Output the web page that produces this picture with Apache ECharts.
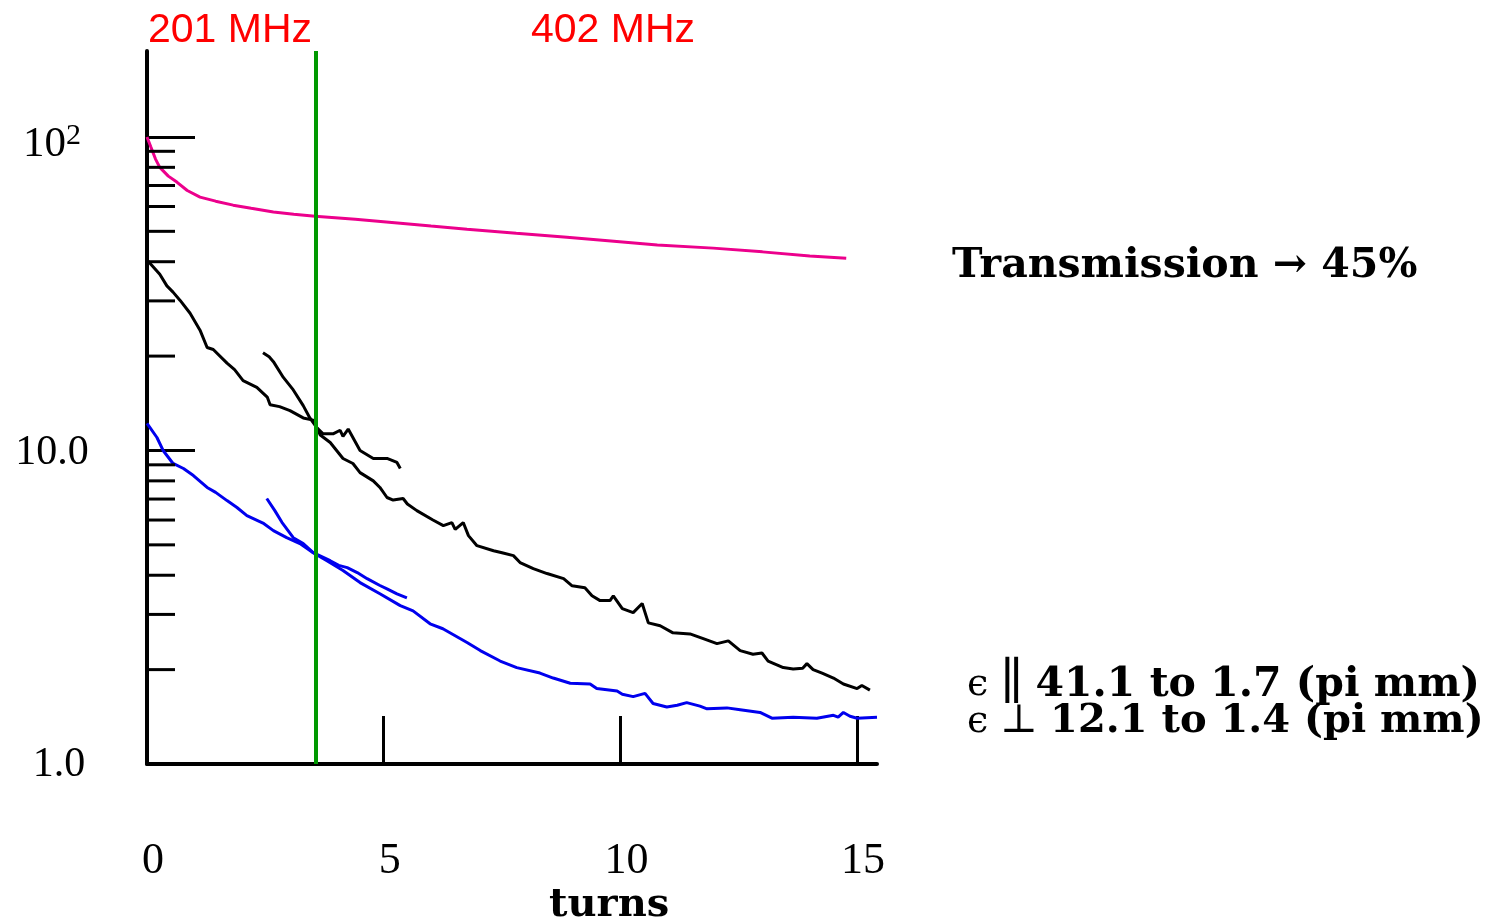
<!DOCTYPE html>
<html><head><meta charset="utf-8">
<script src="https://cdn.jsdelivr.net/npm/echarts@6/dist/echarts.min.js"></script>
<style>html,body{margin:0;padding:0;background:#fff}#c{width:1495px;height:921px}</style>
</head><body><div id="c"></div>
<script>
// tick values
const xTicks = [5, 10, 15];
const xLabels = [0, 5, 10, 15];
const yMajor = [1, 10, 100];
const yMinor = [2, 3, 4, 5, 6, 7, 8, 9, 20, 30, 40, 50, 60, 70, 80, 90];
const rfSwitchTurn = 3.57;

// series: [turns, value]
const transmission = [[0,100],[0.08,93],[0.18,85],[0.27,80],[0.45,75],[0.63,71.8],[0.85,67.5],[1.12,64.3],[1.45,62.4],[1.82,60.6],[2.2,59.2],[2.67,57.6],[3.1,56.7],[3.55,55.9],[4.4,54.6],[5.35,53.1],[6.0,52.0],[6.76,50.8],[7.8,49.3],[8.87,47.9],[9.8,46.6],[10.78,45.2],[11.96,44.2],[13.0,43.0],[14.0,41.7],[14.77,41.0]];

const epsParallel = [[0,40.5],[0.1,39.0],[0.27,36.5],[0.42,33.5],[0.55,32.0],[0.7,30.1],[0.91,27.4],[1.12,24.2],[1.27,21.3],[1.4,21.0],[1.69,19.0],[1.85,18.1],[2.03,16.7],[2.32,15.9],[2.54,14.8],[2.6,14.0],[2.8,13.8],[3.02,13.4],[3.3,12.7],[3.51,12.5],[3.66,11.2],[3.87,10.6],[4.14,9.43],[4.35,9.09],[4.5,8.5],[4.78,8.0],[4.92,7.62],[5.07,7.08],[5.2,6.95],[5.41,7.03],[5.5,6.75],[5.7,6.43],[6.04,6.0],[6.26,5.76],[6.44,5.89],[6.51,5.6],[6.68,5.89],[6.79,5.35],[6.97,4.97],[7.32,4.79],[7.5,4.72],[7.74,4.62],[7.88,4.39],[8.16,4.2],[8.45,4.05],[8.8,3.9],[8.98,3.7],[9.25,3.65],[9.4,3.44],[9.57,3.32],[9.78,3.32],[9.85,3.44],[10.04,3.13],[10.27,3.04],[10.46,3.25],[10.59,2.82],[10.84,2.76],[11.11,2.62],[11.47,2.60],[11.75,2.51],[12.04,2.42],[12.28,2.47],[12.53,2.30],[12.8,2.24],[12.99,2.26],[13.12,2.13],[13.44,2.03],[13.65,2.01],[13.85,2.02],[13.94,2.09],[14.07,2.0],[14.26,1.95],[14.5,1.88],[14.71,1.80],[15.0,1.74],[15.1,1.78],[15.27,1.72]];

const epsParallel402 = [[2.45,20.5],[2.58,19.9],[2.67,19.2],[2.88,17.1],[3.09,15.6],[3.3,13.9],[3.44,12.7],[3.59,11.8],[3.72,11.3],[3.93,11.3],[4.08,11.6],[4.14,11.1],[4.25,11.7],[4.5,10.0],[4.78,9.43],[5.07,9.43],[5.28,9.16],[5.35,8.76]];

const epsPerp = [[0,12.2],[0.21,11.0],[0.34,10.0],[0.55,9.09],[0.77,8.76],[0.98,8.32],[1.27,7.62],[1.45,7.35],[1.69,6.92],[1.9,6.58],[2.11,6.2],[2.45,5.87],[2.67,5.55],[2.95,5.27],[3.23,5.05],[3.51,4.72],[3.8,4.45],[4.14,4.14],[4.5,3.79],[4.92,3.49],[5.35,3.2],[5.62,3.08],[5.98,2.80],[6.25,2.70],[6.76,2.44],[7.04,2.30],[7.46,2.13],[7.81,2.03],[8.3,1.95],[8.58,1.88],[8.94,1.81],[9.36,1.80],[9.5,1.74],[9.93,1.71],[10.04,1.67],[10.27,1.64],[10.52,1.68],[10.69,1.56],[10.98,1.52],[11.2,1.54],[11.4,1.57],[11.68,1.53],[11.83,1.50],[12.25,1.51],[12.53,1.49],[12.95,1.46],[13.2,1.40],[13.65,1.41],[14.15,1.40],[14.5,1.43],[14.6,1.41],[14.71,1.46],[14.85,1.42],[15.0,1.40],[15.42,1.41]];

const epsPerp402 = [[2.53,7.03],[2.7,6.43],[2.85,5.9],[3.09,5.27],[3.3,5.05],[3.51,4.72],[3.87,4.45],[4.05,4.3],[4.23,4.23],[4.44,4.08],[4.65,3.9],[4.92,3.71],[5.07,3.62],[5.28,3.49],[5.49,3.39]];

const chart = echarts.init(document.getElementById('c'), null, {renderer: 'canvas'});
const serif = '"Liberation Serif", serif';
const bserif = '"DejaVu Serif", serif';
const sans = '"Liberation Sans", sans-serif';

function lineSeries(name, data, color, extra) {
  return Object.assign({
    name: name, type: 'line', data: data, showSymbol: false, symbol: 'none',
    lineStyle: {color: color, width: 3}, itemStyle: {color: color}, z: 3, silent: true
  }, extra || {});
}

chart.setOption({
  animation: false,
  backgroundColor: '#fff',
  grid: {left: 147, top: 51, right: 618, bottom: 157, containLabel: false},
  xAxis: {
    type: 'value', min: 0, max: 15.42,
    axisLine: {onZero: false, lineStyle: {color: '#000', width: 4}},
    axisTick: {show: true, inside: true, length: 48, lineStyle: {color: '#000', width: 3}, customValues: xTicks},
    axisLabel: {customValues: xLabels, margin: 75, fontFamily: serif, fontSize: 44, color: '#000', padding: [0, 0, 0, 12]},
    splitLine: {show: false}
  },
  yAxis: {
    type: 'log', logBase: 10, min: 1, max: 188,
    axisLine: {show: true, lineStyle: {color: '#000', width: 4}},
    axisTick: {show: true, inside: true, length: 48, lineStyle: {color: '#000', width: 3}, customValues: yMajor},
    axisLabel: {
      customValues: yMajor, align: 'center', margin: 95, color: '#000', fontFamily: serif, fontSize: 42,
      formatter: function (v) {
        const r = Math.round(v);
        if (r === 100) return '{e| }\n{a|10}{s|2}';
        if (r === 10) return '{b|10.0}';
        return '{c|1.0}';
      },
      rich: {
        e: {fontFamily: serif, fontSize: 10, lineHeight: 16},
        a: {fontFamily: serif, fontSize: 43, color: '#000', lineHeight: 48},
        s: {fontFamily: serif, fontSize: 30, color: '#000', verticalAlign: 'top', lineHeight: 30},
        b: {fontFamily: serif, fontSize: 42, color: '#000', padding: [4, 0, 0, 0]},
        c: {fontFamily: serif, fontSize: 42, color: '#000', padding: [2, 0, 0, 14]}
      }
    },
    splitLine: {show: false}
  },
  series: [
    lineSeries('Transmission', transmission, '#ec008c', {
      markLine: {
        silent: true, symbol: ['none', 'none'], label: {show: false},
        lineStyle: {color: '#009900', width: 4, type: 'solid'},
        data: [{xAxis: rfSwitchTurn}]
      }
    }),
    lineSeries('eps parallel', epsParallel, '#000000'),
    lineSeries('eps parallel 402', epsParallel402, '#000000'),
    lineSeries('eps perp', epsPerp, '#0000ee'),
    lineSeries('eps perp 402', epsPerp402, '#0000ee'),
    {
      type: 'custom', data: yMinor.map(function (v) { return [0, v]; }),
      encode: {x: 0, y: 1}, clip: false, silent: true, z: 5,
      renderItem: function (params, api) {
        const p = api.coord([api.value(0), api.value(1)]);
        return {type: 'line', shape: {x1: p[0], y1: p[1], x2: p[0] + 28, y2: p[1]},
                style: {stroke: '#000', lineWidth: 3}};
      }
    }
  ],
  graphic: [
    {type: 'text', x: 148, y: 31, style: {text: '201 MHz', font: '41px ' + sans, fill: '#ff0000', textVerticalAlign: 'middle'}},
    {type: 'text', x: 531, y: 31, style: {text: '402 MHz', font: '41px ' + sans, fill: '#ff0000', textVerticalAlign: 'middle'}},
    {type: 'text', x: 952, y: 266, style: {text: 'Transmission → 45%', font: 'bold 41px ' + bserif, fill: '#000', textVerticalAlign: 'middle'}},
    {type: 'text', x: 967, y: 685, style: {
      text: '{n|ϵ }{p|∥}{n| }{b|41.1 to 1.7 (pi mm)}', textVerticalAlign: 'middle',
      rich: {n: {font: '38px ' + bserif, fill: '#000'}, p: {font: '50px ' + bserif, fill: '#000'}, b: {font: 'bold 41px ' + bserif, fill: '#000'}}}},
    {type: 'text', x: 967, y: 722, style: {
      text: '{n|ϵ }{p|⊥}{n| }{b|12.1 to 1.4 (pi mm)}', textVerticalAlign: 'middle',
      rich: {n: {font: '38px ' + bserif, fill: '#000'}, p: {font: '40px ' + bserif, fill: '#000'}, b: {font: 'bold 40px ' + bserif, fill: '#000'}}}},
    {type: 'text', x: 549, y: 906, style: {text: 'turns', font: 'bold 40px ' + bserif, fill: '#000', textVerticalAlign: 'middle'}}
  ]
});
</script>
</body></html>
